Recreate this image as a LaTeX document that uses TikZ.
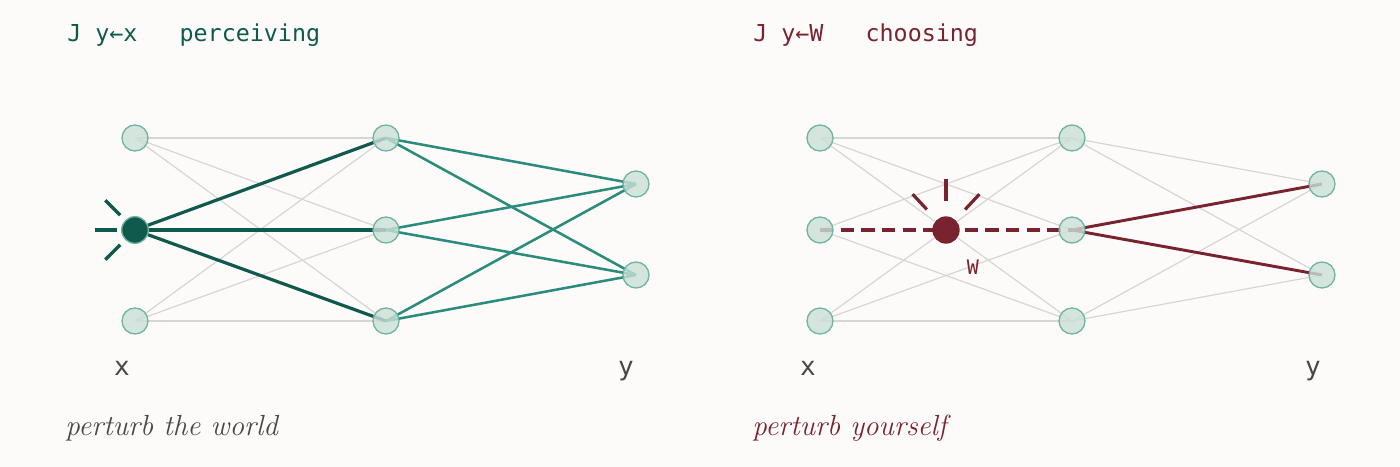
\documentclass[tikz,border=0pt]{standalone}
\usepackage{fontspec}
\setmonofont{DejaVu Sans Mono}
\usepackage{xcolor}
\usetikzlibrary{calc}
\definecolor{paper}{HTML}{FCFBF9}
\definecolor{deepgreen}{HTML}{0F5A4C}
\definecolor{tealline}{HTML}{2B8C7B}
\definecolor{wine}{HTML}{78232F}
\definecolor{meshgray}{HTML}{D6D6D2}
\definecolor{unitfill}{HTML}{CBE0D8}
\definecolor{unitedge}{HTML}{70B5A2}
\definecolor{inkgray}{HTML}{474747}

\begin{document}
\begin{tikzpicture}[x=0.75pt,y=-0.75pt,
  unit/.style={circle,draw=unitedge,line width=1pt,fill=unitfill,fill opacity=0.8,minimum size=19.5pt,inner sep=0pt},
  mesh/.style={meshgray,line width=0.9pt},
  spark/.style={line width=2.4pt},
  label/.style={inner sep=0pt}]
\useasboundingbox (0,0) rectangle (1400,467);
\fill[paper] (0,0) rectangle (1400,467);

% left net: perceiving
\coordinate (lx1) at (135,138);
\coordinate (lx2) at (135,230);
\coordinate (lx3) at (135,321);
\coordinate (lh1) at (386,138);
\coordinate (lh2) at (386,230);
\coordinate (lh3) at (386,321);
\coordinate (ly1) at (636,184);
\coordinate (ly2) at (636,275);

\draw[mesh] (lx1)--(lh1);
\draw[mesh] (lx1)--(lh2);
\draw[mesh] (lx1)--(lh3);
\draw[mesh] (lx3)--(lh1);
\draw[mesh] (lx3)--(lh2);
\draw[mesh] (lx3)--(lh3);
\draw[tealline,line width=1.9pt] (lh1)--(ly1);
\draw[tealline,line width=1.9pt] (lh1)--(ly2);
\draw[tealline,line width=1.9pt] (lh2)--(ly1);
\draw[tealline,line width=1.9pt] (lh2)--(ly2);
\draw[tealline,line width=1.9pt] (lh3)--(ly1);
\draw[tealline,line width=1.9pt] (lh3)--(ly2);
\draw[deepgreen,line width=2.4pt] (lx2)--(lh1);
\draw[deepgreen,line width=2.4pt] (lx2)--(lh2);
\draw[deepgreen,line width=2.4pt] (lx2)--(lh3);

\node[unit] at (lx1) {};
\node[unit] at (lx3) {};
\node[unit] at (lh1) {};
\node[unit] at (lh2) {};
\node[unit] at (lh3) {};
\node[unit] at (ly1) {};
\node[unit] at (ly2) {};
\node[circle,fill=deepgreen,draw=unitedge,line width=1pt,minimum size=20pt,inner sep=0pt] (xin) at (lx2) {};
\draw[deepgreen,spark] ([shift={(180:18)}]lx2)--([shift={(180:40)}]lx2);
\draw[deepgreen,spark] ([shift={(225:21)}]lx2)--([shift={(225:42)}]lx2);
\draw[deepgreen,spark] ([shift={(135:21)}]lx2)--([shift={(135:42)}]lx2);

\node[label,anchor=base west,text=deepgreen,font=\ttfamily\fontsize{17.5}{20}\selectfont] (ltitle) at (67,42) {J~y←x~~~perceiving};
\node[label,anchor=base,text=inkgray,font=\ttfamily\fontsize{19.5}{22}\selectfont] (lxlab) at (122,375) {x};
\node[label,anchor=base,text=inkgray,font=\ttfamily\fontsize{19.5}{22}\selectfont] (lylab) at (626,375) {y};
\node[label,anchor=base west,text=inkgray,font=\itshape\fontsize{21.8}{24}\selectfont] (lnote) at (65,435) {perturb the world};

% right net: choosing
\coordinate (rx1) at (820,138);
\coordinate (rx2) at (820,230);
\coordinate (rx3) at (820,321);
\coordinate (rh1) at (1072,138);
\coordinate (rh2) at (1072,230);
\coordinate (rh3) at (1072,321);
\coordinate (ry1) at (1322,184);
\coordinate (ry2) at (1322,275);
\coordinate (wpt) at (946,230);

\draw[mesh] (rx1)--(rh1);
\draw[mesh] (rx1)--(rh2);
\draw[mesh] (rx1)--(rh3);
\draw[mesh] (rx2)--(rh1);
\draw[mesh] (rx2)--(rh3);
\draw[mesh] (rx3)--(rh1);
\draw[mesh] (rx3)--(rh2);
\draw[mesh] (rx3)--(rh3);
\draw[mesh] (rh1)--(ry1);
\draw[mesh] (rh1)--(ry2);
\draw[mesh] (rh3)--(ry1);
\draw[mesh] (rh3)--(ry2);
\draw[wine,line width=2.2pt] (rh2)--(ry1);
\draw[wine,line width=2.2pt] (rh2)--(ry2);
\draw[wine,line width=3pt,dash pattern=on 10pt off 5.5pt] (rx2)--(rh2);

\node[unit] at (rx1) {};
\node[unit] at (rx2) {};
\node[unit] at (rx3) {};
\node[unit] at (rh1) {};
\node[unit] at (rh2) {};
\node[unit] at (rh3) {};
\node[unit] at (ry1) {};
\node[unit] at (ry2) {};
\node[circle,fill=wine,minimum size=20.5pt,inner sep=0pt] (wnode) at (wpt) {};
\draw[wine,spark] ([shift={(270:29)}]wpt)--([shift={(270:51)}]wpt);
\draw[wine,spark] ([shift={(227:28)}]wpt)--([shift={(227:49)}]wpt);
\draw[wine,spark] ([shift={(313:28)}]wpt)--([shift={(313:49)}]wpt);
\node[label,anchor=base,text=wine,font=\ttfamily\fontsize{15}{18}\selectfont] (wlab) at (973,274) {W};

\node[label,anchor=base west,text=wine,font=\ttfamily\fontsize{17.5}{20}\selectfont] (rtitle) at (753,42) {J~y←W~~~choosing};
\node[label,anchor=base,text=inkgray,font=\ttfamily\fontsize{19.5}{22}\selectfont] (rxlab) at (808,375) {x};
\node[label,anchor=base,text=inkgray,font=\ttfamily\fontsize{19.5}{22}\selectfont] (rylab) at (1313,375) {y};
\node[label,anchor=base west,text=wine,font=\itshape\fontsize{21.8}{24}\selectfont] (rnote) at (752,435) {perturb yourself};
\end{tikzpicture}
\end{document}
